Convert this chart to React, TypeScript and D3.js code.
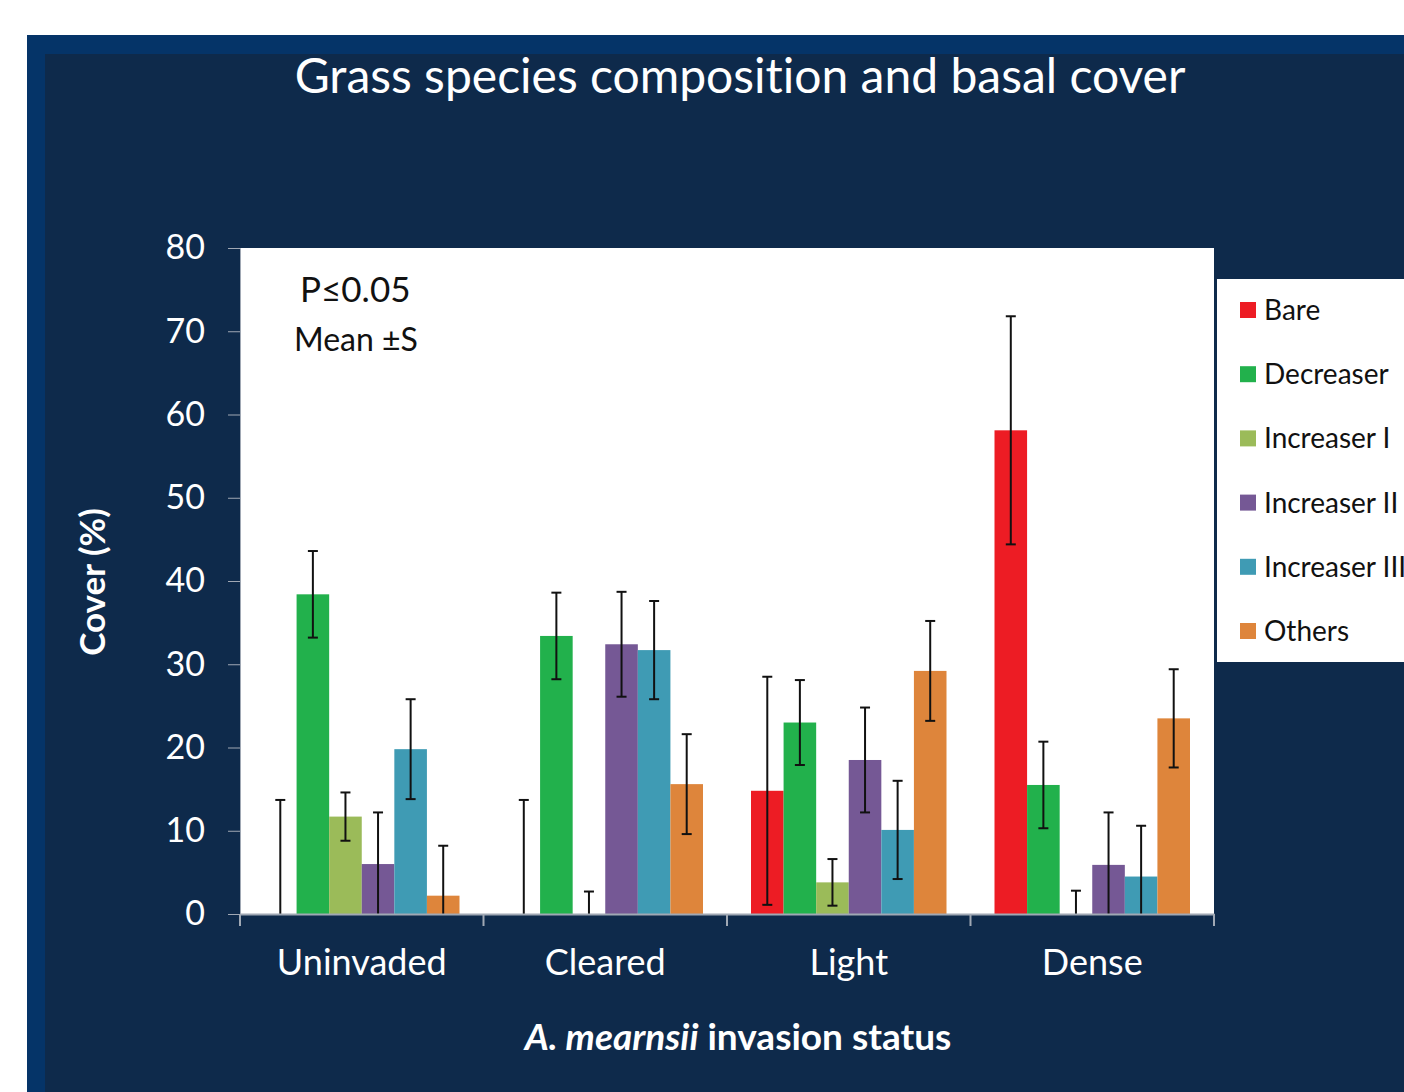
import React, { useRef, useEffect } from "react"
import * as d3 from "d3"

const categories = ["Uninvaded", "Cleared", "Light", "Dense"]
const seriesNames = ["Bare", "Decreaser", "Increaser I", "Increaser II", "Increaser III", "Others"]
const seriesColors = ["#ed1c24", "#22b14c", "#9bbb59", "#755895", "#3f9bb4", "#de853b"]

// mean cover per series, one value per category
const bare = [0, 0, 14.8, 58.1]
const decreaser = [38.4, 33.4, 23.0, 15.5]
const increaser1 = [11.7, 0, 3.8, 0]
const increaser2 = [6.0, 32.4, 18.5, 5.9]
const increaser3 = [19.8, 31.7, 10.1, 4.5]
const others = [2.2, 15.6, 29.2, 23.5]

// standard error per series
const bareErr = [13.7, 13.7, 13.7, 13.7]
const decreaserErr = [5.2, 5.2, 5.1, 5.2]
const increaser1Err = [2.9, 2.7, 2.8, 2.8]
const increaser2Err = [6.2, 6.3, 6.3, 6.3]
const increaser3Err = [6.0, 5.9, 5.9, 6.1]
const othersErr = [6.0, 6.0, 6.0, 5.9]

const yTicks = [0, 10, 20, 30, 40, 50, 60, 70, 80]

const values = [bare, decreaser, increaser1, increaser2, increaser3, others]
const errors = [bareErr, decreaserErr, increaser1Err, increaser2Err, increaser3Err, othersErr]

const FONT = "Lato, 'Open Sans', sans-serif"

const ChartGrass = () => {
  const svgRef = useRef(null)

  const generateChart = () => {
    const W = 1404
    const H = 1092
    const plot = { left: 240, right: 1214, top: 248, bottom: 914 }

    const root = d3
      .select(svgRef.current)
      .attr("width", W)
      .attr("height", H)
      .style("font-variant-ligatures", "none")
    root.selectAll("*").remove()

    // frame
    root.append("rect").attr("x", 27).attr("y", 35).attr("width", W).attr("height", H).attr("fill", "#053468")
    root.append("rect").attr("x", 45).attr("y", 54).attr("width", W).attr("height", H).attr("fill", "#0e2a4b")

    // plot area
    root
      .append("rect")
      .attr("x", plot.left)
      .attr("y", plot.top)
      .attr("width", plot.right - plot.left)
      .attr("height", plot.bottom - plot.top)
      .attr("fill", "#ffffff")

    const x0 = d3.scaleBand().domain(categories).range([plot.left, plot.right])
    const x1 = d3
      .scaleBand()
      .domain(seriesNames)
      .range([24, x0.bandwidth() - 24])
    const y = d3.scaleLinear().domain([0, 80]).range([plot.bottom, plot.top])

    // bars
    const rows = []
    categories.forEach((c, ci) => {
      seriesNames.forEach((s, si) => {
        rows.push({ c, s, si, v: values[si][ci], e: errors[si][ci] })
      })
    })

    const g = root.append("g")
    g.selectAll(".bar")
      .data(rows.filter((d) => d.v > 0))
      .enter()
      .append("rect")
      .attr("x", (d) => x0(d.c) + x1(d.s))
      .attr("y", (d) => y(d.v))
      .attr("width", x1.bandwidth())
      .attr("height", (d) => y(0) - y(d.v))
      .attr("fill", (d) => seriesColors[d.si])

    // error bars
    const cap = 5
    rows.forEach((d) => {
      const cx = x0(d.c) + x1(d.s) + x1.bandwidth() / 2
      const hi = d.v + d.e
      const lo = Math.max(0, d.v - d.e)
      g.append("line")
        .attr("x1", cx).attr("x2", cx)
        .attr("y1", y(hi)).attr("y2", y(lo))
        .attr("stroke", "#111").attr("stroke-width", 2)
      g.append("line")
        .attr("x1", cx - cap).attr("x2", cx + cap)
        .attr("y1", y(hi)).attr("y2", y(hi))
        .attr("stroke", "#111").attr("stroke-width", 2)
      if (d.v - d.e > 0) {
        g.append("line")
          .attr("x1", cx - cap).attr("x2", cx + cap)
          .attr("y1", y(lo)).attr("y2", y(lo))
          .attr("stroke", "#111").attr("stroke-width", 2)
      }
    })

    // y axis
    const yAxis = root
      .append("g")
      .attr("transform", `translate(${plot.left},0)`)
      .call(d3.axisLeft(y).tickValues(yTicks).tickSize(12).tickPadding(23))
    yAxis.select(".domain").attr("stroke", "#a0a8b4")
    yAxis.selectAll(".tick line").attr("stroke", "#a0a8b4")
    yAxis
      .selectAll(".tick text")
      .attr("fill", "#ffffff")
      .style("font-family", FONT)
      .style("font-size", "34px")

    // x axis
    const xAxis = root
      .append("g")
      .attr("transform", `translate(0,${plot.bottom})`)
      .call(d3.axisBottom(x0).tickSize(0).tickPadding(35))
    xAxis.select(".domain").attr("stroke", "#a0a8b4").attr("stroke-width", 2)
    xAxis
      .selectAll(".tick text")
      .attr("fill", "#ffffff")
      .style("font-family", FONT)
      .style("font-size", "36px")
    const bounds = categories.map((c) => x0(c)).concat([plot.right])
    root
      .append("g")
      .selectAll("line")
      .data(bounds)
      .enter()
      .append("line")
      .attr("x1", (d) => d).attr("x2", (d) => d)
      .attr("y1", plot.bottom).attr("y2", plot.bottom + 12)
      .attr("stroke", "#a0a8b4").attr("stroke-width", 2)

    // titles
    root
      .append("text")
      .attr("x", 740)
      .attr("y", 93)
      .attr("text-anchor", "middle")
      .attr("fill", "#ffffff")
      .style("font-family", FONT)
      .style("font-size", "48px")
      .text("Grass species composition and basal cover")

    const xt = root
      .append("text")
      .attr("x", 738)
      .attr("y", 1050)
      .attr("text-anchor", "middle")
      .attr("fill", "#ffffff")
      .style("font-family", FONT)
      .style("font-size", "37px")
      .style("font-weight", "bold")
    xt.append("tspan").style("font-style", "italic").text("A. mearnsii")
    xt.append("tspan").text(" invasion status")

    root
      .append("text")
      .attr("transform", "translate(105,582) rotate(-90)")
      .attr("text-anchor", "middle")
      .attr("fill", "#ffffff")
      .style("font-family", FONT)
      .style("font-size", "35px")
      .style("font-weight", "bold")
      .text("Cover (%)")

    // annotation
    root
      .append("text")
      .attr("x", 300).attr("y", 302)
      .attr("fill", "#111")
      .style("font-family", FONT)
      .style("font-size", "35px")
      .text("P≤0.05")
    root
      .append("text")
      .attr("x", 294).attr("y", 351)
      .attr("fill", "#111")
      .style("font-family", FONT)
      .style("font-size", "32px")
      .text("Mean ±S")

    // legend (runs off the right edge, as in the source slide)
    const lg = root.append("g").attr("transform", "translate(1217,279)")
    lg.append("rect").attr("width", 200).attr("height", 383).attr("fill", "#ffffff")
    const item = lg
      .selectAll(".item")
      .data(seriesNames)
      .enter()
      .append("g")
      .attr("transform", (d, i) => `translate(23,${31 + i * 64.2})`)
    item
      .append("rect")
      .attr("x", 0).attr("y", -8)
      .attr("width", 16).attr("height", 16)
      .attr("fill", (d, i) => seriesColors[i])
    item
      .append("text")
      .attr("x", 24)
      .attr("y", 10)
      .attr("fill", "#111")
      .style("font-family", FONT)
      .style("font-size", "28px")
      .text((d) => d)
  }

  useEffect(() => {
    generateChart()
  }, [])

  return (
    <svg ref={svgRef} style={{ position: "absolute", left: 0, top: 0, display: "block" }}></svg>
  )
}

export default function App() {
  return <ChartGrass />
}
